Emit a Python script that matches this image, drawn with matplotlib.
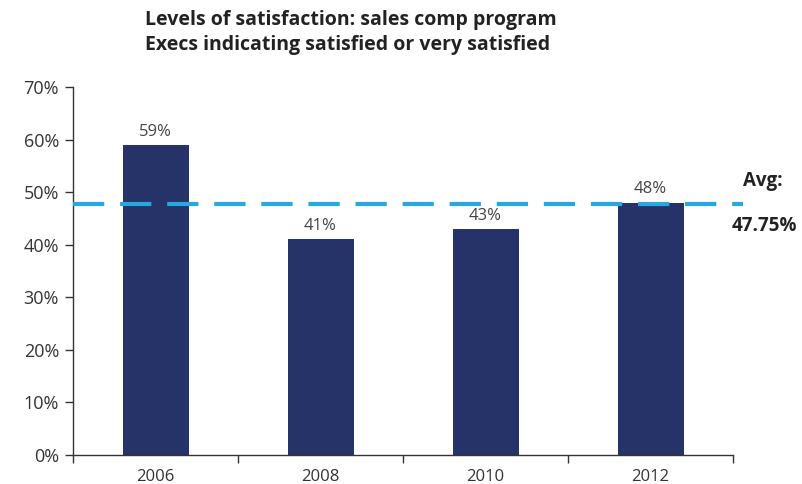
import matplotlib.pyplot as plt
import numpy as np

years = ["2006", "2008", "2010", "2012"]
satisfied = [59, 41, 43, 48]
average = 47.75

bar_color = "#253368"
avg_color = "#29A8E0"
text_color = "#333333"

plt.rcParams["font.family"] = ["Open Sans", "DejaVu Sans"]

fig = plt.figure(figsize=(8.02, 4.84), dpi=100)
ax = fig.add_axes([73 / 802, 29 / 484, 660 / 802, 368 / 484])

x = np.arange(len(years))
ax.bar(x, satisfied, width=0.4, color=bar_color, zorder=2)
for xi, v in zip(x, satisfied):
    ax.text(xi, v + 1.0, f"{v}%", ha="center", va="bottom", fontsize=12, color="#444444")

# average line runs a little past the right edge of the axes
ax.plot([-0.5, 3.56], [average, average], color=avg_color, lw=3,
        dashes=(7.5, 3.8), clip_on=False, zorder=3)
ax.text(3.68, 50.2, "Avg:", ha="center", va="bottom", fontsize=13.5,
        fontweight="bold", color="#222222", clip_on=False)
ax.text(3.69, 45.5, f"{average:.2f}%", ha="center", va="top", fontsize=13.5,
        fontweight="bold", color="#222222", clip_on=False)

ax.set_xlim(-0.5, 3.5)
ax.set_ylim(0, 70)
ax.set_yticks(range(0, 71, 10))
ax.set_yticklabels([f"{t}%" for t in range(0, 71, 10)], fontsize=13, color=text_color)
ax.set_xticks(x)
ax.set_xticklabels(years, fontsize=12, color=text_color)
ax.set_xticks(np.arange(-0.5, 4, 1), minor=True)
ax.tick_params(axis="x", which="major", length=0, pad=10)
ax.tick_params(axis="x", which="minor", length=6, width=1, color="#333333", direction="out")
ax.tick_params(axis="y", length=6, width=1, color="#333333", direction="out", pad=4)

for s in ("top", "right"):
    ax.spines[s].set_visible(False)
for s in ("left", "bottom"):
    ax.spines[s].set_color("#333333")
    ax.spines[s].set_linewidth(1)

fig.text(145 / 802, 1 - 20 / 484, "Levels of satisfaction: sales comp program",
         fontsize=14, fontweight="bold", color="#222222", va="center", ha="left")
fig.text(145 / 802, 1 - 45 / 484, "Execs indicating satisfied or very satisfied",
         fontsize=14, fontweight="bold", color="#222222", va="center", ha="left")

fig.savefig("out.png", dpi=100)
